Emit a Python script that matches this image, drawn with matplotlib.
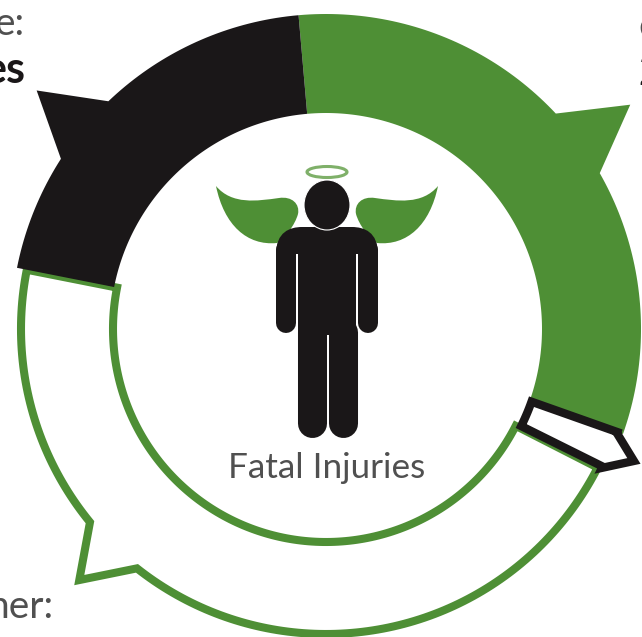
import numpy as np
import matplotlib
matplotlib.use('Agg')
import matplotlib.pyplot as plt
from matplotlib.path import Path
from matplotlib.patches import PathPatch, Ellipse, Polygon, Rectangle

# share of fatal injuries, clockwise from just left of 12 o'clock
labels = ['green', 'sliver', 'white', 'black']
shares = [31.8, 2.1, 45.6, 20.5]

title = 'Fatal Injuries'

GREEN = '#4e8f35'
BLACK = '#1a1718'
GREY = '#505050'
START = -5.0
CX, CY = 326, 329

fig = plt.figure(figsize=(6.42, 6.37), dpi=100)
ax = fig.add_axes([0, 0, 1, 1])
ax.set_xlim(0, 642)
ax.set_ylim(637, 0)
ax.axis('off')


def polar(angle, r):
    a = np.radians(angle)
    return CX + r * np.sin(a), CY - r * np.cos(a)


def segment(a0, a1, r_in, r_out, barb=None):
    # ring segment, barb = (centre angle, half width, tip radius)
    pts = []
    if barb is None:
        runs = [(a0, a1)]
    else:
        runs = [(a0, barb[0] - barb[1]), (barb[0] + barb[1], a1)]
    for k, (s, e) in enumerate(runs):
        n = max(int(abs(e - s)), 1) + 1
        pts += [polar(t, r_out) for t in np.linspace(s, e, n)]
        if k == 0 and barb is not None:
            pts.append(polar(barb[0], barb[2]))
    pts += [polar(t, r_in) for t in np.linspace(a1, a0, int(a1 - a0) + 2)]
    return np.array(pts)


edges = START + np.cumsum([0] + shares) * 3.6

white_seg = segment(edges[2], edges[3], 213, 305, barb=(224.5, 6.2, 352))
ax.add_patch(Polygon(white_seg, closed=True, fc='white', ec=GREEN, lw=5.8, joinstyle='miter'))

green_seg = segment(edges[0], edges[1], 216, 315, barb=(53.6, 6.75, 378))
ax.add_patch(Polygon(green_seg, closed=True, fc=GREEN, ec='none'))

sliver_seg = segment(edges[1], edges[2] - 0.6, 218, 309, barb=(113.2, 3.5, 335))
ax.add_patch(Polygon(sliver_seg, closed=True, fc='white', ec=BLACK, lw=6.0, joinstyle='miter'))

black_seg = segment(edges[3], edges[4], 216, 315, barb=(309.5, 6.8, 375))
ax.add_patch(Polygon(black_seg, closed=True, fc=BLACK, ec='none'))

# wings
for side in (-1, 1):
    mx = lambda x: 327 + side * x
    verts = [(mx(111), 186), (mx(95), 205), (mx(70), 201), (mx(48), 198),
             (mx(35), 196), (mx(27), 204), (mx(29), 214),
             (mx(32), 225), (mx(42), 238), (mx(50), 243),
             (mx(80), 246), (mx(103), 225), (mx(111), 186)]
    codes = [Path.MOVETO] + [Path.CURVE4] * 12
    ax.add_patch(PathPatch(Path(verts, codes), fc=GREEN, ec='none'))

# halo
ax.add_patch(Ellipse((327, 172), 40, 11, fc='none', ec='#7fb069', lw=2.2))

# body
shoulders = [(276, 254), (276, 232), (290, 227), (302, 227), (352, 227),
             (364, 227), (378, 232), (378, 254)]
ax.add_patch(PathPatch(Path(shoulders, [Path.MOVETO, Path.CURVE4, Path.CURVE4, Path.CURVE4,
                                        Path.LINETO, Path.CURVE4, Path.CURVE4, Path.CURVE4]),
                       fc=BLACK, ec='none'))
ax.add_patch(Rectangle((298, 240), 58, 95, fc=BLACK, ec='none'))
for x in (286, 368):
    ax.plot([x, x], [250, 323], color=BLACK, lw=14.4, solid_capstyle='round')
for x in (311.5, 342.5):
    ax.plot([x, x], [332, 422.5], color=BLACK, lw=20.9, solid_capstyle='round')
ax.add_patch(Ellipse((327, 205), 46, 50, fc=BLACK, ec='white', lw=0.8))

ax.text(327, 478, title, ha='center', va='baseline', family='Lato',
        fontsize=25.3, color=GREY)

# side labels run off the edge of the crop
ax.text(25, 35, 'e:', ha='right', va='baseline', family='Lato',
        fontsize=28, color=GREY)
ax.text(26, 83, 'es', ha='right', va='baseline', family='Lato', weight='bold',
        fontsize=31, color=BLACK)
ax.text(53, 618, 'her:', ha='right', va='baseline', family='Lato',
        fontsize=28, color=GREY)
ax.text(0, 668, 't', ha='left', va='baseline', family='Lato', weight='bold',
        fontsize=31, color=BLACK)
ax.text(638, 38, 'e', ha='left', va='baseline', family='Lato',
        fontsize=28, color=GREY)
ax.text(638, 85, '2', ha='left', va='baseline', family='Lato', weight='bold',
        fontsize=31, color=BLACK)

fig.savefig('out.png', dpi=100)
